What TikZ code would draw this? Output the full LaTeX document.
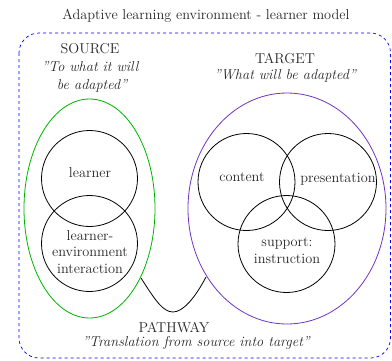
\documentclass[tikz,border=0pt]{standalone}
\usepackage{fontspec}
\begin{document}
\begin{tikzpicture}[x=1pt,y=-1pt,
  lbl/.style={font=\fontsize{14.3}{16.8}\selectfont, text=black!85, inner sep=0pt, align=center},
  ilbl/.style={lbl, font=\fontsize{14.3}{16.8}\selectfont\itshape},
  circ/.style={draw=black, line width=0.8pt},
]
\useasboundingbox (0,0) rectangle (392,360);
% frame
\draw[blue, dashed, line width=0.7pt, rounded corners=20pt] (19,33) rectangle (390.5,358);
\node[lbl] (title) at (206,16) {Adaptive learning environment - learner model};
% source
\node[lbl] (srct) at (90,49) {SOURCE};
\node[ilbl] (srci1) at (90,67) {''To what it will};
\node[ilbl] (srci2) at (92,86) {be adapted''};
\draw[green!70!black, line width=0.8pt] (89.5,208.5) ellipse [x radius=65.5, y radius=109.5];
\node[circ, circle, minimum size=96pt, inner sep=0pt] (learner) at (89.5,178.5) {};
\node[circ, circle, minimum size=96pt, inner sep=0pt] (lei) at (89.5,243.5) {};
\node[lbl] at (90,173) {learner};
\node[lbl] at (90,252) {learner-\\environment\\interaction};
% target
\node[lbl] (tgtt) at (285,59) {TARGET};
\node[ilbl] (tgti) at (285,76) {''What will be adapted''};
\draw[violet!60!blue!80!white, line width=0.8pt] (287,208.5) ellipse [x radius=99, y radius=115.5];
\node[circ, circle, minimum size=97pt, inner sep=0pt] (content) at (246.5,182) {};
\node[circ, circle, minimum size=97pt, inner sep=0pt] (pres) at (328,182) {};
\node[circ, circle, minimum size=97pt, inner sep=0pt] (supp) at (286.5,244) {};
\node[lbl] at (242,177) {content};
\node[lbl] at (338,179) {presentation};
\node[lbl] at (287,251) {support:\\instruction};
% pathway
\coordinate (pa) at (141,278);
\coordinate (pb) at (206,277);
\draw[black, line width=0.8pt] (pa) .. controls (155,300) and (163,312) .. (173,312) .. controls (183,312) and (195,298) .. (pb);
\node[lbl] (patht) at (174,328) {PATHWAY};
\node[ilbl] (pathi) at (196,343) {''Translation from source into target''};
\end{tikzpicture}
\end{document}
